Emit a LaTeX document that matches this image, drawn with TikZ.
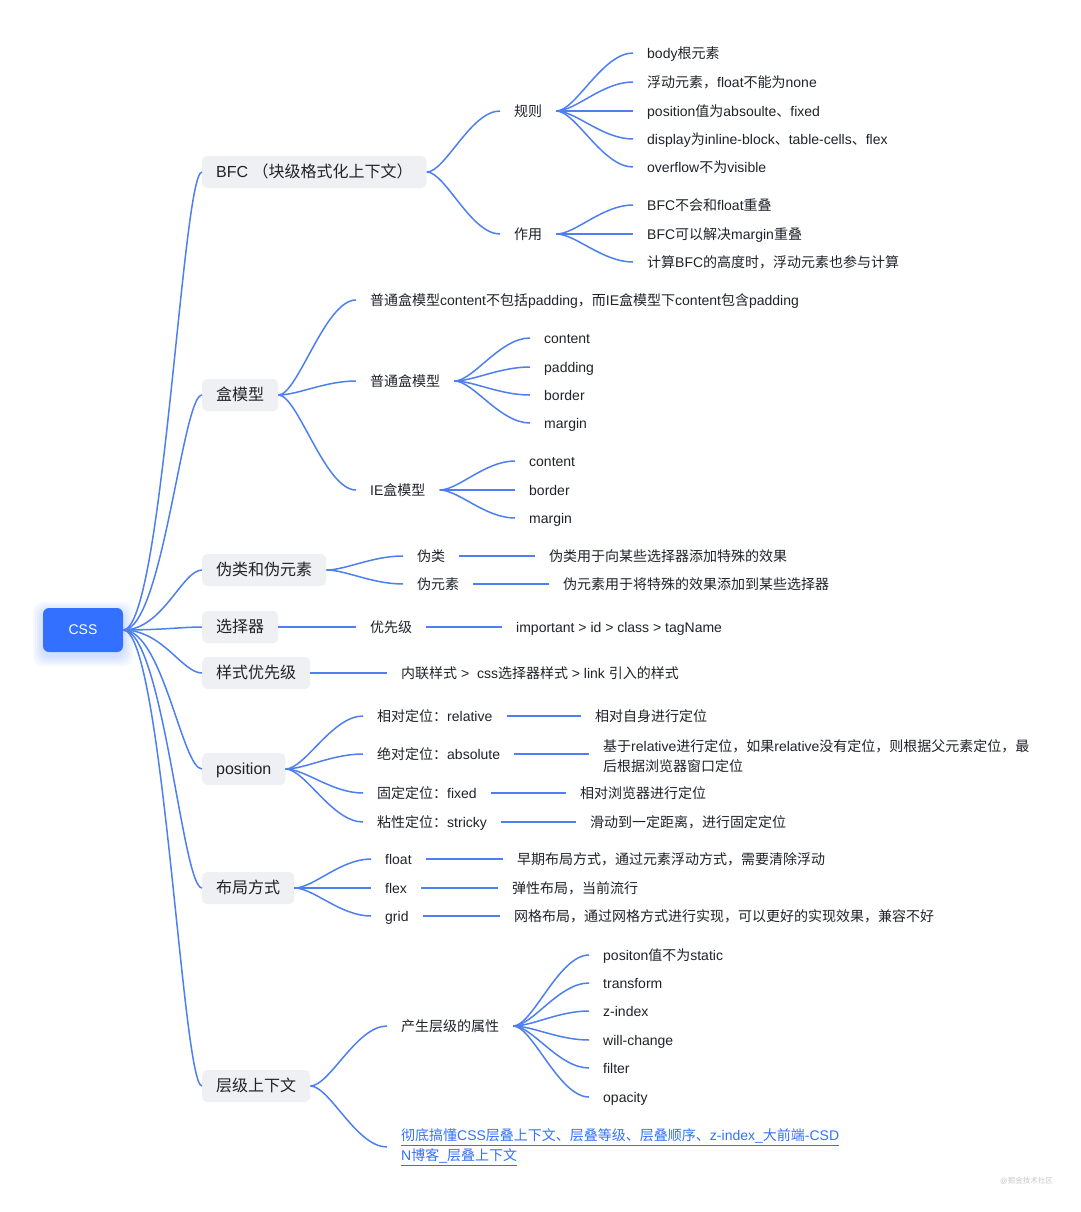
\documentclass[tikz,border=0pt]{standalone}
\usepackage{fontspec}
\setmainfont{Liberation Sans}
\newfontfamily\cjkfont{Noto Sans CJK SC}
\XeTeXinterchartokenstate=1
\newXeTeXintercharclass\CJKcls
\makeatletter
\count@="3000
\loop\ifnum\count@<"3040 \XeTeXcharclass\count@=\CJKcls \advance\count@ 1 \repeat
\count@="4E00
\loop\ifnum\count@<"A000 \XeTeXcharclass\count@=\CJKcls \advance\count@ 1 \repeat
\count@="FF00
\loop\ifnum\count@<"FFF0 \XeTeXcharclass\count@=\CJKcls \advance\count@ 1 \repeat
\makeatother
\XeTeXinterchartoks 0 \CJKcls = {\cjkfont}
\XeTeXinterchartoks 4095 \CJKcls = {\cjkfont}
\XeTeXinterchartoks \CJKcls 0 = {\rmfamily}
\XeTeXinterchartoks \CJKcls 4095 = {\rmfamily}
\usetikzlibrary{calc}
\definecolor{linec}{HTML}{4E7FEF}
\definecolor{rootblue}{HTML}{3370FF}
\definecolor{boxfill}{HTML}{EEF0F3}
\definecolor{txt}{HTML}{1F2329}
\definecolor{linkc}{HTML}{3370FF}
\definecolor{wm}{HTML}{C8C8C8}
% root connectors
\newcommand\rconn[2]{\draw[conn] let \p1=(#1.east), \p2=(#2.west) in (\p1) .. controls ({\x1+0.5*(\x2-\x1)},\y1) and ({\x2-0.25*(\x2-\x1)},\y2) .. (\p2);}
% inner connectors
\newcommand\conn[2]{\draw[conn] let \p1=(#1.east), \p2=(#2.west) in (\p1) .. controls ({\x1+0.25*(\x2-\x1)},\y1) and ({\x2-0.4*(\x2-\x1)},\y2) .. (\p2);}
\begin{document}
\begin{tikzpicture}[x=1pt,y=-1pt,
  lone/.style={anchor=west, fill=boxfill, rounded corners=5pt, minimum height=32pt, inner xsep=14pt, inner ysep=0pt, text height=14pt, text depth=3pt, text=txt, font=\fontsize{16}{19}\selectfont},
  lfm/.style={anchor=west, inner xsep=14pt, inner ysep=1pt, text=txt, font=\fontsize{14}{20}\selectfont},
  lf/.style={lfm, text height=14pt, text depth=2.5pt},
  rootbox/.style={fill=rootblue, rounded corners=6pt, minimum width=80pt, minimum height=44pt, inner sep=0pt, text=white, font=\fontsize{14}{17}\selectfont},
  conn/.style={draw=linec, line width=1.5pt},
  glow/.style={fill=rootblue, opacity=0.045, rounded corners=10pt}]
\useasboundingbox (0,0) rectangle (1080,1212);
\fill[white] (0,0) rectangle (1080,1212);
% root glow
\foreach \g in {2,4,6,8,10}{\fill[glow] (43-\g,612-\g) rectangle (123+\g,656+\g);}
\node[rootbox] (root) at (83,630) {CSS};
% level 1
\node[lone] (bfc) at (202,172) {BFC （块级格式化上下文）};
\node[lone] (box) at (202,395) {盒模型};
\node[lone] (pc) at (202,570) {伪类和伪元素};
\node[lone] (sel) at (202,627) {选择器};
\node[lone] (sty) at (202,673) {样式优先级};
\node[lone] (pos) at (202,769) {position};
\node[lone] (lay) at (202,888) {布局方式};
\node[lone] (ctx) at (202,1086) {层级上下文};
\foreach \k in {bfc,box,pc,sel,sty,pos,lay,ctx}{\rconn{root}{\k}}
% BFC
\node[lf] (rule) at (500,111) {规则};
\node[lf] (use) at (500,234) {作用};
\conn{bfc}{rule}\conn{bfc}{use}
\node[lf] (r1) at (633,53) {body根元素};
\node[lf] (r2) at (633,82) {浮动元素，float不能为none};
\node[lf] (r3) at (633,111) {position值为absoulte、fixed};
\node[lf] (r4) at (633,139) {display为inline-block、table-cells、flex};
\node[lf] (r5) at (633,167) {overflow不为visible};
\foreach \k in {r1,r2,r3,r4,r5}{\conn{rule}{\k}}
\node[lf] (u1) at (633,205) {BFC不会和float重叠};
\node[lf] (u2) at (633,234) {BFC可以解决margin重叠};
\node[lf] (u3) at (633,262) {计算BFC的高度时，浮动元素也参与计算};
\foreach \k in {u1,u2,u3}{\conn{use}{\k}}
% box model
\node[lf] (b0) at (356,300) {普通盒模型content不包括padding，而IE盒模型下content包含padding};
\node[lf] (bn) at (356,381) {普通盒模型};
\node[lf] (bi) at (356,490) {IE盒模型};
\foreach \k in {b0,bn,bi}{\conn{box}{\k}}
\node[lf] (n1) at (530,338) {content};
\node[lf] (n2) at (530,367) {padding};
\node[lf] (n3) at (530,395) {border};
\node[lf] (n4) at (530,423) {margin};
\foreach \k in {n1,n2,n3,n4}{\conn{bn}{\k}}
\node[lf] (i1) at (515,461) {content};
\node[lf] (i2) at (515,490) {border};
\node[lf] (i3) at (515,518) {margin};
\foreach \k in {i1,i2,i3}{\conn{bi}{\k}}
% pseudo
\node[lf] (pc1) at (403,556) {伪类};
\node[lf] (pc2) at (403,584) {伪元素};
\conn{pc}{pc1}\conn{pc}{pc2}
\node[lf] (pd1) at (535,556) {伪类用于向某些选择器添加特殊的效果};
\node[lf] (pd2) at (549,584) {伪元素用于将特殊的效果添加到某些选择器};
\conn{pc1}{pd1}\conn{pc2}{pd2}
% selector
\node[lf] (pri) at (356,627) {优先级};
\node[lf] (imp) at (502,627) {important > id > class > tagName};
\conn{sel}{pri}\conn{pri}{imp}
% style priority
\node[lf] (inl) at (387,673) {内联样式 >\ \ css选择器样式 > link 引入的样式};
\conn{sty}{inl}
% position
\node[lf] (p1) at (363,716) {相对定位：relative};
\node[lf] (p2) at (363,754) {绝对定位：absolute};
\node[lf] (p3) at (363,793) {固定定位：fixed};
\node[lf] (p4) at (363,822) {粘性定位：stricky};
\foreach \k in {p1,p2,p3,p4}{\conn{pos}{\k}}
\node[lf] (q1) at (581,716) {相对自身进行定位};
\node[lfm, align=left] (q2) at (589,756) {基于relative进行定位，如果relative没有定位，则根据父元素定位，最\\后根据浏览器窗口定位};
\node[lf] (q3) at (566,793) {相对浏览器进行定位};
\node[lf] (q4) at (576,822) {滑动到一定距离，进行固定定位};
\conn{p1}{q1}\draw[conn] (p2.east) -- (p2.east -| q2.west);\conn{p3}{q3}\conn{p4}{q4}
% layout
\node[lf] (l1) at (371,859) {float};
\node[lf] (l2) at (371,888) {flex};
\node[lf] (l3) at (371,916) {grid};
\foreach \k in {l1,l2,l3}{\conn{lay}{\k}}
\node[lf] (m1) at (503,859) {早期布局方式，通过元素浮动方式，需要清除浮动};
\node[lf] (m2) at (498,888) {弹性布局，当前流行};
\node[lf] (m3) at (500,916) {网格布局，通过网格方式进行实现，可以更好的实现效果，兼容不好};
\conn{l1}{m1}\conn{l2}{m2}\conn{l3}{m3}
% stacking context
\node[lf] (attr) at (387,1026) {产生层级的属性};
\node[lfm, align=left, text=linkc] (link) at (387,1147) {\underline{彻底搞懂CSS层叠上下文、层叠等级、层叠顺序、z-index\_大前端-CSD}\\\underline{N博客\_层叠上下文}};
\conn{ctx}{attr}\conn{ctx}{link}
\node[lf] (a1) at (589,955) {positon值不为static};
\node[lf] (a2) at (589,983) {transform};
\node[lf] (a3) at (589,1011) {z-index};
\node[lf] (a4) at (589,1040) {will-change};
\node[lf] (a5) at (589,1068) {filter};
\node[lf] (a6) at (589,1097) {opacity};
\foreach \k in {a1,a2,a3,a4,a5,a6}{\conn{attr}{\k}}
% watermark
\node[anchor=east, inner sep=0pt, text=wm, font=\fontsize{7.5}{9}\selectfont] (wmk) at (1053,1181) {@掘金技术社区};
\end{tikzpicture}
\end{document}
